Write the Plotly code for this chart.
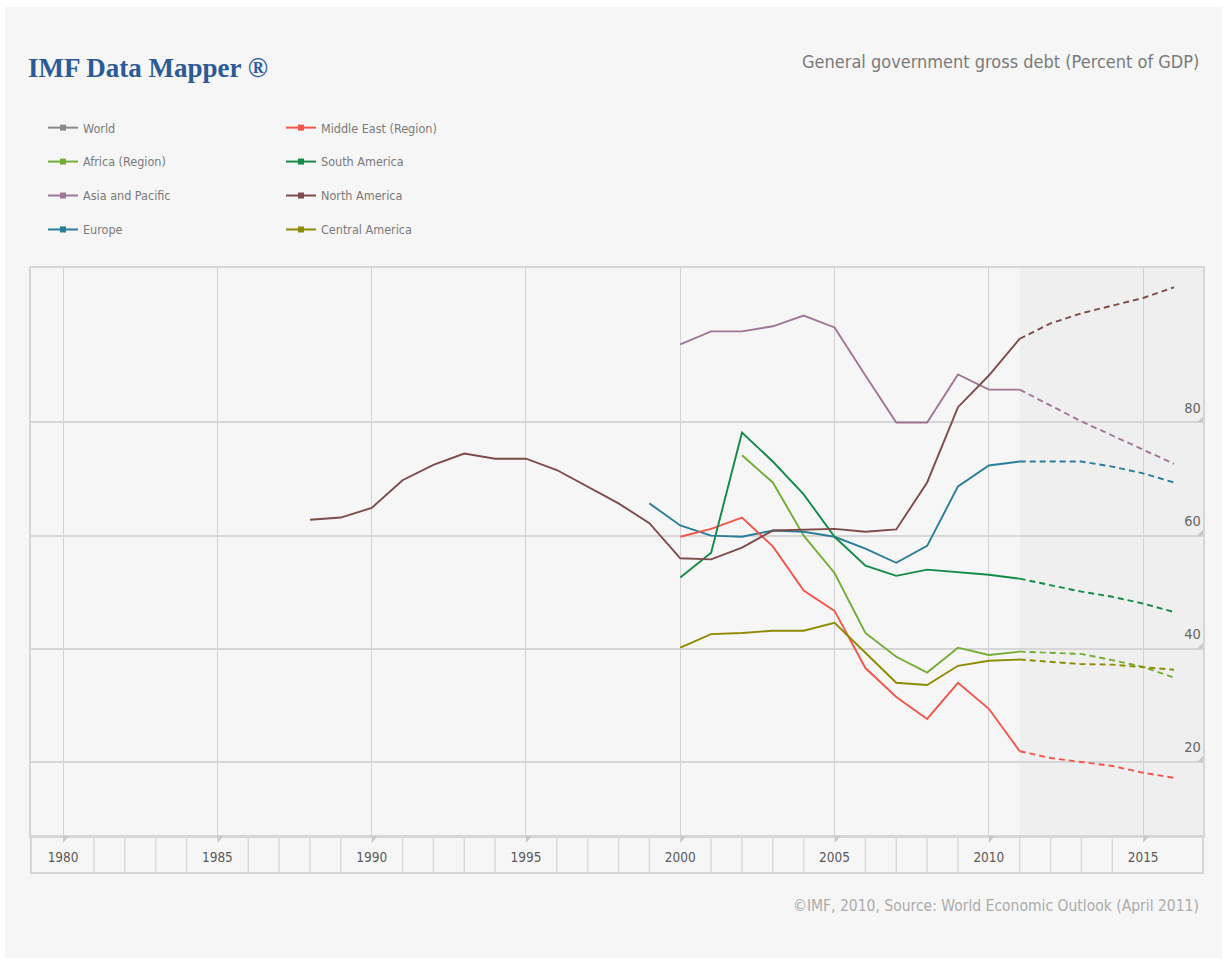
import plotly.graph_objects as go

# ---------------- data ----------------
forecast_start = 2011

world_years = []
world_vals = []

africa_years = list(range(2002, 2017))
africa_vals = [74.2, 69.4, 60.0, 53.4, 42.8, 38.6, 35.8, 40.2, 38.9, 39.5,
               39.3, 39.1, 38.0, 36.8, 34.9]

asia_years = list(range(2000, 2017))
asia_vals = [93.8, 96.1, 96.1, 97.0, 98.9, 96.8, 88.3, 80.0, 80.0, 88.5,
             85.8, 85.8, 83.0, 80.2, 77.7, 75.2, 72.7]

europe_years = list(range(1999, 2017))
europe_vals = [65.7, 61.8, 60.0, 59.8, 60.9, 60.7, 59.8, 57.7, 55.2, 58.2,
               68.7, 72.4, 73.1, 73.1, 73.1, 72.2, 71.0, 69.4]

mideast_years = list(range(2000, 2017))
mideast_vals = [59.8, 61.2, 63.2, 58.1, 50.3, 46.7, 36.6, 31.5, 27.6, 34.0,
                29.4, 21.9, 20.7, 20.0, 19.3, 18.1, 17.2]

southam_years = list(range(2000, 2017))
southam_vals = [52.6, 57.0, 78.2, 73.1, 67.3, 59.8, 54.7, 52.9, 54.0, 53.6,
                53.1, 52.4, 51.3, 50.1, 49.2, 48.0, 46.5]

northam_years = list(range(1988, 2017))
northam_vals = [62.8, 63.2, 64.9, 69.8, 72.5, 74.5, 73.6, 73.6, 71.6, 68.7,
                65.7, 62.2, 56.0, 55.8, 57.9, 60.9, 61.1, 61.2, 60.7, 61.1,
                69.4, 82.7, 88.3, 94.8, 97.5, 99.3, 100.6, 102.0, 103.9]

centam_years = list(range(2000, 2017))
centam_vals = [40.2, 42.6, 42.8, 43.2, 43.2, 44.6, 39.3, 34.0, 33.6, 37.0,
               37.9, 38.1, 37.7, 37.3, 37.2, 36.8, 36.3]

x_tick_years = [1980, 1985, 1990, 1995, 2000, 2005, 2010, 2015]
y_tick_vals = [20, 40, 60, 80]

legend1 = [
    ("World", "#888888", world_years, world_vals),
    ("Africa (Region)", "#72ad35", africa_years, africa_vals),
    ("Asia and Pacific", "#a07596", asia_years, asia_vals),
    ("Europe", "#2a7d98", europe_years, europe_vals),
]
legend2 = [
    ("Middle East (Region)", "#f2554a", mideast_years, mideast_vals),
    ("South America", "#148a48", southam_years, southam_vals),
    ("North America", "#7e4a4a", northam_years, northam_vals),
    ("Central America", "#8c8c00", centam_years, centam_vals),
]

# ---------------- layout geometry ----------------
W, H = 1229, 964
ML, MR, MT, MB = 31, 26, 268, 128
PW = W - ML - MR
PH = H - MT - MB


def pxx(x):
    return (x - ML) / PW


def pyy(y):
    return (H - MB - y) / PH


NARROW = "DejaVu Sans Condensed, Liberation Sans Narrow, Arial Narrow, sans-serif"
X_MIN, X_MAX = 1978.96, 2016.94
Y_MIN, Y_MAX = 6.92, 107.3

fig = go.Figure()

for name, color, yrs, vals in legend1 + legend2:
    if not yrs:
        continue
    hist_x = [y for y in yrs if y <= forecast_start]
    hist_y = [v for y, v in zip(yrs, vals) if y <= forecast_start]
    fc_x = [y for y in yrs if y >= forecast_start]
    fc_y = [v for y, v in zip(yrs, vals) if y >= forecast_start]
    fig.add_trace(go.Scatter(x=hist_x, y=hist_y, mode="lines", name=name,
                             legendgroup=name, showlegend=False,
                             line=dict(color=color, width=1.9)))
    if len(fc_x) > 1:
        fig.add_trace(go.Scatter(x=fc_x, y=fc_y, mode="lines", name=name,
                                 legendgroup=name, showlegend=False,
                                 line=dict(color=color, width=1.9, dash="6px,4px")))

# legend entries
for leg_id, items in (("legend", legend1), ("legend2", legend2)):
    for name, color, yrs, vals in items:
        fig.add_trace(go.Scatter(x=[None], y=[None], mode="lines+markers", name=name,
                                 legendgroup=name, legend=leg_id,
                                 line=dict(color=color, width=2),
                                 marker=dict(color=color, symbol="square", size=6)))

shapes = []
# white outer border
for (x0, x1, y0, y1) in [(0, 5, 0, H), (1222, W, 0, H), (0, W, 0, 7), (0, W, 958, H)]:
    shapes.append(dict(type="rect", xref="paper", yref="paper", layer="below",
                       x0=pxx(x0), x1=pxx(x1), y0=pyy(y1), y1=pyy(y0),
                       fillcolor="#ffffff", line=dict(width=0)))
# forecast shading
shapes.append(dict(type="rect", xref="x", yref="paper", layer="below",
                   x0=forecast_start, x1=X_MAX, y0=0, y1=1,
                   fillcolor="#efefef", line=dict(width=0)))
# x-axis band
band_bottom = pyy(873)
shapes.append(dict(type="rect", xref="paper", yref="paper", x0=0, x1=1,
                   y0=band_bottom, y1=0, line=dict(color="#d6d6d6", width=2),
                   fillcolor="rgba(0,0,0,0)"))
for yr in range(int(X_MIN) + 2, int(X_MAX)):
    if yr % 5 != 0:
        shapes.append(dict(type="line", xref="x", yref="paper", x0=yr, x1=yr,
                           y0=band_bottom, y1=0, line=dict(color="#dadada", width=1.5)))
dx_year = 6 / (PW / (X_MAX - X_MIN))
dy_band = 7 / PH
for yr in x_tick_years:
    shapes.append(dict(type="path", xref="x", yref="paper",
                       path=f"M {yr},0 L {yr + dx_year},0 L {yr},{-dy_band} Z",
                       fillcolor="#c8c8c8", line=dict(width=0)))
dx_pap = 6 / PW
dy_val = 6 / (PH / (Y_MAX - Y_MIN))
for v in y_tick_vals:
    shapes.append(dict(type="path", xref="paper", yref="y",
                       path=f"M 1,{v} L 1,{v + dy_val} L {1 - dx_pap},{v} Z",
                       fillcolor="#c8c8c8", line=dict(width=0)))

annotations = [
    dict(text="<b>IMF Data Mapper ®</b>", xref="paper", yref="paper",
         x=pxx(26), y=pyy(68), xanchor="left", yanchor="middle", showarrow=False,
         font=dict(family="Liberation Serif, DejaVu Serif, serif", size=27, color="#2b5b96")),
    dict(text="General government gross debt (Percent of GDP)", xref="paper", yref="paper",
         x=pxx(1201), y=pyy(62), xanchor="right", yanchor="middle", showarrow=False,
         font=dict(family=NARROW, size=18, color="#7a7a7a")),
    dict(text="©IMF, 2010, Source: World Economic Outlook (April 2011)", xref="paper", yref="paper",
         x=pxx(1201), y=pyy(906), xanchor="right", yanchor="middle", showarrow=False,
         font=dict(family=NARROW, size=15.5, color="#ababab")),
]

legend_common = dict(font=dict(family=NARROW, size=12.5, color="#7a7a7a"),
                     bgcolor="rgba(0,0,0,0)", borderwidth=0, orientation="v",
                     traceorder="grouped", tracegroupgap=14.7, itemwidth=30,
                     xanchor="left", yanchor="top")

fig.update_layout(
    width=W, height=H,
    margin=dict(l=ML, r=MR, t=MT, b=MB, pad=0),
    paper_bgcolor="#f6f6f6", plot_bgcolor="#f6f6f6",
    shapes=shapes, annotations=annotations,
    legend=dict(x=pxx(43), y=pyy(113), **legend_common),
    legend2=dict(x=pxx(281), y=pyy(113), **legend_common),
    xaxis=dict(range=[X_MIN, X_MAX], tickvals=x_tick_years, showgrid=True,
               gridcolor="#d2d2d2", gridwidth=1, zeroline=False,
               showline=True, mirror=True, linecolor="#d6d6d6", linewidth=2,
               ticks="", ticklabelstandoff=8,
               tickfont=dict(family=NARROW, size=13.5, color="#5a5a5a")),
    yaxis=dict(range=[Y_MIN, Y_MAX], tickvals=y_tick_vals, showgrid=True,
               gridcolor="#d6d6d6", gridwidth=2, zeroline=False,
               showline=True, mirror=True, linecolor="#d6d6d6", linewidth=2,
               side="right", ticklabelposition="inside", ticks="",
               ticklabelshift=-15, ticklabelstandoff=2,
               tickfont=dict(family=NARROW, size=14.5, color="#666666")),
    showlegend=True,
)

fig.write_html("out.html")
